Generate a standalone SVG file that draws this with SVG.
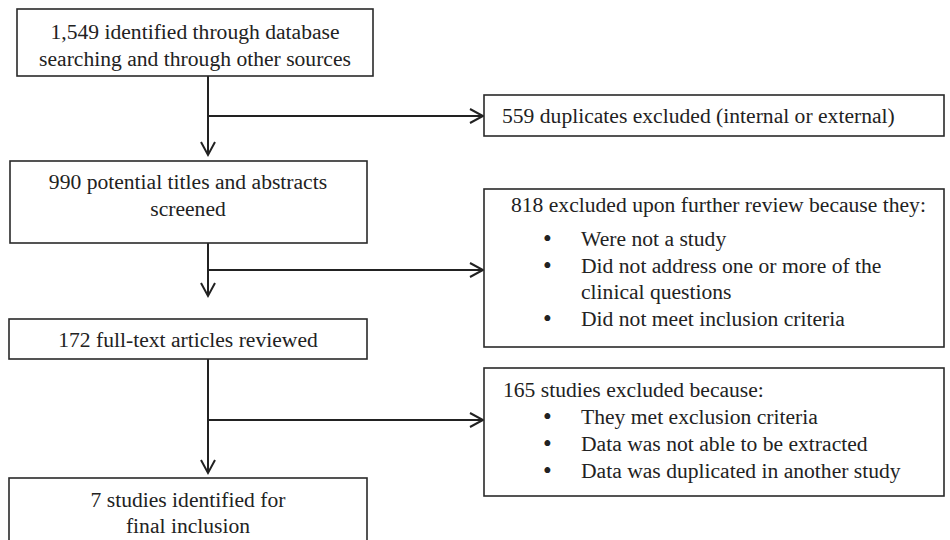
<svg xmlns="http://www.w3.org/2000/svg" width="950" height="540" viewBox="0 0 950 540">
<style>
.box{fill:#fff;stroke:#2a2a2a;stroke-width:1.6}
.t{font-family:"Liberation Serif","Times New Roman",serif;font-size:21.6px;fill:#222}
.b{font-family:"Liberation Serif","Times New Roman",serif;font-size:25px;fill:#222}
.c{text-anchor:middle}
.ln{fill:none;stroke:#222;stroke-width:2}
</style>
<defs>
<marker id="ah" markerWidth="20" markerHeight="20" refX="14" refY="8" orient="auto" markerUnits="userSpaceOnUse">
<path d="M1,1 L14,8 L1,15" fill="none" stroke="#222" stroke-width="2"/>
</marker>
</defs>
<rect width="950" height="540" fill="#fff"/>
<g id="connectors">
<path class="ln" d="M208,76 V155" marker-end="url(#ah)"/>
<path class="ln" d="M208,116 H483" marker-end="url(#ah)"/>
<path class="ln" d="M208,243 V296" marker-end="url(#ah)"/>
<path class="ln" d="M208,270 H483" marker-end="url(#ah)"/>
<path class="ln" d="M208,359 V473" marker-end="url(#ah)"/>
<path class="ln" d="M208,420 H483" marker-end="url(#ah)"/>
</g>
<g id="n1">
<rect class="box" x="17" y="9" width="356" height="67"/>
<text class="t c" x="195" y="39">1,549 identified through database</text>
<text class="t c" x="195" y="66">searching and through other sources</text>
</g>
<g id="n2">
<rect class="box" x="484" y="95" width="460" height="41"/>
<text class="t" x="502" y="123">559 duplicates excluded (internal or external)</text>
</g>
<g id="n3">
<rect class="box" x="10" y="161" width="357" height="82"/>
<text class="t c" x="188" y="189">990 potential titles and abstracts</text>
<text class="t c" x="188" y="216">screened</text>
</g>
<g id="n4">
<rect class="box" x="484" y="189" width="460" height="158"/>
<text class="t" x="511" y="212">818 excluded upon further review because they:</text>
<text class="b" x="543" y="247">•</text><text class="t" x="581" y="246">Were not a study</text>
<text class="b" x="543" y="274">•</text><text class="t" x="581" y="273">Did not address one or more of the</text>
<text class="t" x="581" y="299">clinical questions</text>
<text class="b" x="543" y="327">•</text><text class="t" x="581" y="326">Did not meet inclusion criteria</text>
</g>
<g id="n5">
<rect class="box" x="9" y="319" width="358" height="40"/>
<text class="t c" x="188" y="347">172 full-text articles reviewed</text>
</g>
<g id="n6">
<rect class="box" x="484" y="368" width="460" height="128"/>
<text class="t" x="503" y="397">165 studies excluded because:</text>
<text class="b" x="543" y="425">•</text><text class="t" x="581" y="424">They met exclusion criteria</text>
<text class="b" x="543" y="452">•</text><text class="t" x="581" y="451">Data was not able to be extracted</text>
<text class="b" x="543" y="479">•</text><text class="t" x="581" y="478">Data was duplicated in another study</text>
</g>
<g id="n7">
<rect class="box" x="9" y="478" width="358" height="70"/>
<text class="t c" x="188" y="507">7 studies identified for</text>
<text class="t c" x="188" y="533">final inclusion</text>
</g>
</svg>
